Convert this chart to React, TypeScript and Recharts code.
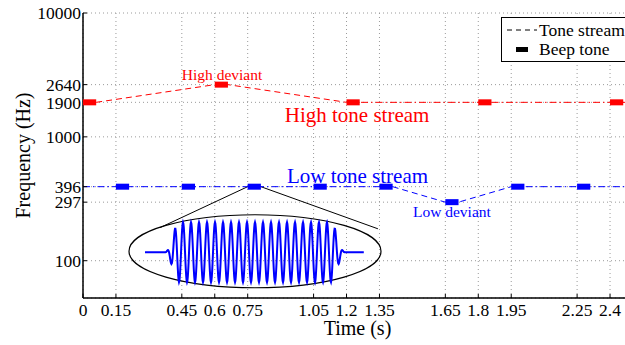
import React from 'react';
import {
  ComposedChart,
  Line,
  Scatter,
  XAxis,
  YAxis,
  CartesianGrid,
  ReferenceLine,
  ReferenceArea,
  ReferenceDot,
  Legend,
} from 'recharts';

// ---- data ----
const highTimes = [0, 0.6, 1.2, 1.8, 2.4];
const highFreqs = [1900, 2640, 1900, 1900, 1900];
const lowTimes = [0.15, 0.45, 0.75, 1.05, 1.35, 1.65, 1.95, 2.25];
const lowFreqs = [396, 396, 396, 396, 396, 297, 396, 396];
const beepDuration = 0.06;
const xEnd = 2.5;
const xTicks = [0, 0.15, 0.45, 0.6, 0.75, 1.05, 1.2, 1.35, 1.65, 1.8, 1.95, 2.25, 2.4];
const yTicks = [100, 297, 396, 1000, 1900, 2640, 10000];
const legendLabels = ['Tone stream', 'Beep tone'];

const RED = '#ff0000';
const BLUE = '#0000ff';
const FONT = '"Liberation Serif", "Times New Roman", Times, serif';

// beep markers (centred in each beep)
const highBeeps = highTimes.map((t, i) => ({ t: t + beepDuration / 2, f: highFreqs[i] }));
const lowBeeps = lowTimes.map((t, i) => ({ t: t + beepDuration / 2, f: lowFreqs[i] }));

// stream lines
const highDeviantPath = [
  { t: highTimes[0] + beepDuration, f: highFreqs[0] },
  { t: highTimes[1], f: highFreqs[1] },
  { t: highTimes[1] + beepDuration, f: highFreqs[1] },
  { t: highTimes[2], f: highFreqs[2] },
];
const highSteady = [
  { t: highTimes[2], f: highFreqs[2] },
  { t: xEnd, f: highFreqs[4] },
];
const lowSteadyA = [
  { t: 0, f: lowFreqs[0] },
  { t: lowTimes[4] + beepDuration, f: lowFreqs[4] },
];
const lowDeviantPath = [
  { t: lowTimes[4] + beepDuration, f: lowFreqs[4] },
  { t: lowTimes[5], f: lowFreqs[5] },
  { t: lowTimes[5] + beepDuration, f: lowFreqs[5] },
  { t: lowTimes[6], f: lowFreqs[6] },
];
const lowSteadyB = [
  { t: lowTimes[6], f: lowFreqs[6] },
  { t: xEnd, f: lowFreqs[7] },
];

// annotations (text centre in data coords)
const annotations = [
  { text: 'High deviant', t: 0.633, f: 3190, color: RED, size: 15.5 },
  { text: 'High tone stream', t: 1.248, f: 1517, color: RED, size: 21 },
  { text: 'Low tone stream', t: 1.25, f: 489, color: BLUE, size: 21 },
  { text: 'Low deviant', t: 1.68, f: 251, color: BLUE, size: 15.5 },
];

// inset (zoom of one beep)
const inset = { t1: 0.2095, t2: 1.357, f1: 60.5, f2: 235 };
const connectorLeft = [{ x: lowTimes[2], y: lowFreqs[2] }, { x: 0.351, y: 185 }];
const connectorRight = [{ x: lowTimes[2] + beepDuration, y: lowFreqs[2] }, { x: 1.343, y: 181 }];

const BeepShape = (color: string) => (props: any) => {
  const { cx, cy } = props;
  if (cx == null || cy == null) return null;
  return <rect x={cx - 6.6} y={cy - 3} width={13.2} height={6} fill={color} />;
};

const InsetShape = (props: any) => {
  const { x, y, width, height } = props;
  if (x == null) return null;
  const cx = x + width / 2;
  const cy = y + height / 2;
  const w0 = x + 0.0635 * width;
  const w1 = x + 0.933 * width;
  const o0 = x + 0.143 * width;
  const o1 = x + 0.857 * width;
  const amp = 0.41 * height;
  const cycles = 22.5;
  const ramp = 0.08;
  let d = '';
  for (let px = w0; px <= w1; px += 0.4) {
    let yy = cy + 1;
    if (px >= o0 && px <= o1) {
      const u = (px - o0) / (o1 - o0);
      let env = 1;
      if (u < ramp) env = 0.5 - 0.5 * Math.cos((Math.PI * u) / ramp);
      else if (u > 1 - ramp) env = 0.5 - 0.5 * Math.cos((Math.PI * (1 - u)) / ramp);
      yy = cy + 1 - amp * env * Math.sin(2 * Math.PI * cycles * u);
    }
    d += (d ? 'L' : 'M') + px.toFixed(2) + ',' + yy.toFixed(2);
  }
  return (
    <g>
      <ellipse cx={cx} cy={cy} rx={width / 2} ry={height / 2} fill="none" stroke="#000" strokeWidth={1.2} />
      <path d={d} fill="none" stroke={BLUE} strokeWidth={2} />
    </g>
  );
};

const LegendBox = () => (
  <svg width={135} height={45} style={{ display: 'block' }}>
    <rect x={0.5} y={0.5} width={134} height={44} fill="#fff" stroke="#000" strokeWidth={1} />
    <line x1={6} y1={13} x2={36} y2={13} stroke="#000" strokeWidth={1} strokeDasharray="5 4" />
    <rect x={15} y={30} width={12} height={5} fill="#000" />
    <text x={38} y={19} fontFamily={FONT} fontSize={17.5} fill="#000">{legendLabels[0]}</text>
    <text x={38} y={38} fontFamily={FONT} fontSize={17.5} fill="#000">{legendLabels[1]}</text>
  </svg>
);

export default function App() {
  return (
    <div
      style={{
        position: 'absolute',
        left: 0,
        top: 0,
        width: 625,
        height: 345,
        overflow: 'hidden',
        background: '#fff',
      }}
    >
      <ComposedChart
        width={640}
        height={345}
        margin={{ top: 13, right: 8, bottom: 0, left: 0 }}
        style={{ fontFamily: FONT }}
      >
        <CartesianGrid stroke="#9a9a9a" strokeDasharray="1 3" />
        <XAxis
          type="number"
          dataKey="t"
          domain={[0, xEnd]}
          ticks={xTicks}
          interval={0}
          height={47}
          tickSize={-4}
          tickMargin={10}
          axisLine={{ stroke: '#000', strokeWidth: 1.5 }}
          tickLine={{ stroke: '#000' }}
          tick={{ fill: '#000', fontSize: 17.5, fontFamily: FONT }}
          allowDataOverflow
          label={{ value: 'Time (s)', position: 'insideBottom', offset: 10, fill: '#000', fontSize: 20, fontFamily: FONT }}
        />
        <XAxis
          xAxisId="top"
          orientation="top"
          type="number"
          dataKey="t"
          domain={[0, xEnd]}
          ticks={xTicks}
          interval={0}
          height={0}
          tickSize={-4}
          tickFormatter={() => ''}
          axisLine={{ stroke: '#000', strokeWidth: 1.5 }}
          tickLine={{ stroke: '#000' }}
          allowDataOverflow
        />
        <YAxis
          type="number"
          dataKey="f"
          scale="log"
          domain={[50, 10000]}
          ticks={yTicks}
          interval={0}
          width={83}
          tickSize={-4}
          tickMargin={6}
          axisLine={{ stroke: '#000', strokeWidth: 1.5 }}
          tickLine={{ stroke: '#000' }}
          tick={{ fill: '#000', fontSize: 17.5, fontFamily: FONT }}
          allowDataOverflow
          label={{ value: 'Frequency (Hz)', angle: -90, position: 'center', dx: -18.5, fill: '#000', fontSize: 20, fontFamily: FONT }}
        />

        <ReferenceArea x1={inset.t1} x2={inset.t2} y1={inset.f1} y2={inset.f2} shape={InsetShape} />
        <ReferenceLine segment={connectorLeft} stroke="#000" strokeWidth={1} />
        <ReferenceLine segment={connectorRight} stroke="#000" strokeWidth={1} />

        <Line data={highDeviantPath} dataKey="f" stroke={RED} strokeWidth={1} strokeDasharray="6 4" dot={false} isAnimationActive={false} legendType="none" />
        <Line data={highSteady} dataKey="f" stroke={RED} strokeWidth={1} strokeDasharray="7 3 1.5 3" dot={false} isAnimationActive={false} legendType="none" />
        <Line data={lowSteadyA} dataKey="f" stroke={BLUE} strokeWidth={1} strokeDasharray="7 3 1.5 3" dot={false} isAnimationActive={false} legendType="none" />
        <Line data={lowDeviantPath} dataKey="f" stroke={BLUE} strokeWidth={1} strokeDasharray="6 4" dot={false} isAnimationActive={false} legendType="none" />
        <Line data={lowSteadyB} dataKey="f" stroke={BLUE} strokeWidth={1} strokeDasharray="7 3 1.5 3" dot={false} isAnimationActive={false} legendType="none" />

        <Scatter data={highBeeps} dataKey="f" fill={RED} shape={BeepShape(RED)} isAnimationActive={false} legendType="none" />
        <Scatter data={lowBeeps} dataKey="f" fill={BLUE} shape={BeepShape(BLUE)} isAnimationActive={false} legendType="none" />

        {annotations.map((a) => (
          <ReferenceDot
            key={a.text}
            x={a.t}
            y={a.f}
            r={0}
            stroke="none"
            fill="none"
            label={{ value: a.text, position: 'center', fill: a.color, fontSize: a.size, fontFamily: FONT }}
          />
        ))}

        <Legend
          layout="vertical"
          align="center"
          verticalAlign="middle"
          content={LegendBox}
          wrapperStyle={{ position: 'absolute', left: 501, top: 17, width: 135, height: 45 }}
        />
      </ComposedChart>
    </div>
  );
}
